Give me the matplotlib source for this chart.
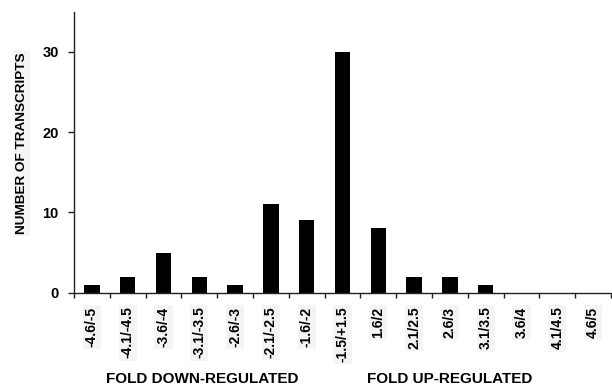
import matplotlib
matplotlib.use("Agg")
import matplotlib.pyplot as plt
import numpy as np

plt.rcParams['font.family'] = ['Liberation Sans', 'DejaVu Sans']
plt.rcParams['font.weight'] = 'bold'

# fold-change bins and transcript counts
bins = ['-4.6/-5', '-4.1/-4.5', '-3.6/-4', '-3.1/-3.5', '-2.6/-3', '-2.1/-2.5',
        '-1.6/-2', '-1.5/+1.5', '1.6/2', '2.1/2.5', '2.6/3', '3.1/3.5',
        '3.6/4', '4.1/4.5', '4.6/5']
counts = [1, 2, 5, 2, 1, 11, 9, 30, 8, 2, 2, 1, 0, 0, 0]
y_ticks = [0, 10, 20, 30]

fig = plt.figure(figsize=(6.12, 3.86), dpi=100)
ax = fig.add_axes([74 / 612, 1 - 292.7 / 386, 537 / 612, 281 / 386])

x = np.arange(len(bins)) + 0.5
ax.bar(x, counts, width=0.43, color='black')

ax.set_xlim(0, len(bins))
ax.set_ylim(0, 35)

# ticks sit between the bins, labels under the bars
ax.set_xticks(np.arange(len(bins) + 1))
ax.set_xticklabels([])
ax.set_xticks(x, minor=True)
ax.set_xticklabels(bins, minor=True, rotation=90, fontsize=10, fontweight='bold',
                   va='top', ha='center',
                   bbox=dict(facecolor='#f4f4f4', edgecolor='none', pad=1.5))
ax.tick_params(axis='x', which='major', direction='out', length=3.5, width=1, color='#222222')
ax.tick_params(axis='x', which='minor', length=0, pad=10)

ax.set_yticks(y_ticks)
ax.set_yticklabels([str(v) for v in y_ticks], fontsize=10.5, fontweight='bold')
ax.tick_params(axis='y', direction='out', length=4, width=1, pad=7, color='#222222')

for side in ['top', 'right']:
    ax.spines[side].set_visible(False)
for side in ['left', 'bottom']:
    ax.spines[side].set_linewidth(1)
    ax.spines[side].set_color('#222222')

fig.text(22 / 612, 1 - 143 / 386, 'NUMBER OF TRANSCRIPTS', rotation=90, fontsize=9.7,
         fontweight='bold', ha='center', va='center',
         bbox=dict(facecolor='#f4f4f4', edgecolor='none', pad=1.5))
fig.text(202 / 612, 1 - 379 / 386, 'FOLD DOWN-REGULATED', fontsize=11,
         fontweight='bold', ha='center', va='center')
fig.text(450 / 612, 1 - 379 / 386, 'FOLD UP-REGULATED', fontsize=11,
         fontweight='bold', ha='center', va='center')

plt.savefig('out.png', dpi=100)
